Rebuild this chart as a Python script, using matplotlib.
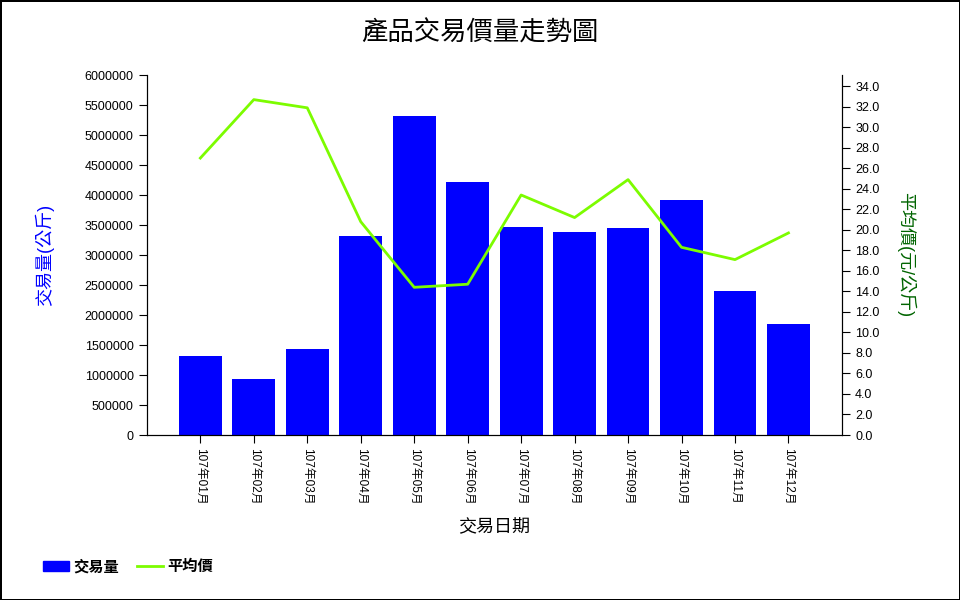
import numpy as np
import matplotlib.pyplot as plt
from matplotlib.patches import Patch
from matplotlib.lines import Line2D

plt.rcParams['font.family'] = ['Liberation Sans', 'Noto Sans CJK TC']

months = ['107年01月', '107年02月', '107年03月', '107年04月', '107年05月', '107年06月',
          '107年07月', '107年08月', '107年09月', '107年10月', '107年11月', '107年12月']
volume = [1320000, 935000, 1435000, 3315000, 5320000, 4215000,
          3465000, 3385000, 3450000, 3915000, 2400000, 1850000]
avg_price = [27.0, 32.7, 31.9, 20.8, 14.4, 14.7,
             23.4, 21.2, 24.9, 18.3, 17.1, 19.7]

fig = plt.figure(figsize=(9.6, 6), dpi=100, linewidth=2, edgecolor='black')
ax = fig.add_axes([0.153, 0.275, 0.724, 0.6])
x = np.arange(len(months))

ax.bar(x, volume, width=0.8, color='#0000ff')
ax.set_xlim(-1, len(months))
ax.set_ylim(0, 6000000)
vticks = np.arange(0, 6000001, 500000)
ax.set_yticks(vticks)
ax.set_yticklabels([str(int(v)) for v in vticks])
ax.set_xticks(x)
ax.set_xticklabels(months, rotation=270, fontsize=8.5)
ax.tick_params(axis='y', labelsize=9, direction='out', length=6)
ax.tick_params(axis='x', direction='out', length=6)
ax.spines['top'].set_visible(False)
ax.set_ylabel('交易量(公斤)', color='#0000ff', fontsize=13, labelpad=22)
ax.set_xlabel('交易日期', fontsize=13, labelpad=10)

ax2 = ax.twinx()
ax2.plot(x, avg_price, color='#7cfc00', linewidth=2)
ax2.set_ylim(0, 35.1)
pticks = np.arange(0, 34.1, 2)
ax2.set_yticks(pticks)
ax2.set_yticklabels([f'{v:.1f}' for v in pticks])
ax2.tick_params(axis='y', labelsize=9, direction='out', length=6)
ax2.spines['top'].set_visible(False)
ax2.set_ylabel('平均價(元/公斤)', color='#006400', fontsize=13, rotation=270, labelpad=26)

fig.text(0.5, 0.945, '產品交易價量走勢圖', ha='center', va='center', fontsize=19)

handles = [Patch(color='#0000ff'), Line2D([], [], color='#7cfc00', linewidth=2)]
fig.legend(handles, ['交易量', '平均價'], loc='lower left', bbox_to_anchor=(0.03, 0.02),
           ncol=2, frameon=False, prop={'weight': 'bold', 'size': 11},
           handlelength=1.7, handletextpad=0.3, columnspacing=1.2)

fig.savefig('out.png', dpi=100, edgecolor=fig.get_edgecolor())
